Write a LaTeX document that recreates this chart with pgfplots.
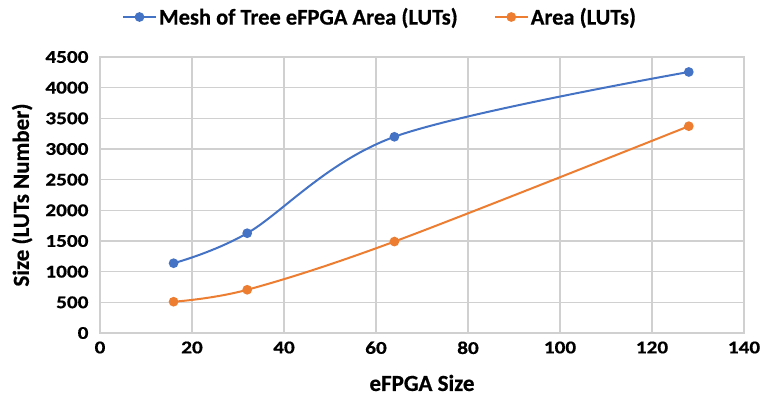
\documentclass[border=0pt]{standalone}
\usepackage{pgfplots}
\pgfplotsset{compat=1.18}
\usepackage{fontspec}
\setmainfont{Carlito}[BoldFeatures={FakeBold=0.6}]
\newfontfamily\tickfont{Carlito}[FakeStretch=1.18, BoldFeatures={FakeBold=0.6}]
\definecolor{sblue}{HTML}{4472C4}
\definecolor{sorange}{HTML}{ED7D31}
\definecolor{gridc}{HTML}{D0D0D0}
\begin{document}
\begin{tikzpicture}
\useasboundingbox (-100pt,-64pt) rectangle (664pt,333pt);
\begin{axis}[
  at={(0pt,0pt)}, anchor=south west,
  scale only axis,
  width=644pt, height=276pt,
  xmin=0, xmax=140, ymin=0, ymax=4500,
  xtick={0,20,...,140}, ytick={0,500,...,4500},
  grid=major,
  major grid style={gridc, line width=1.3pt},
  axis line style={gridc, line width=1.3pt},
  major tick length=0pt,
  /pgf/number format/assume math mode=true,
  /pgf/number format/1000 sep={},
  ticklabel style={font=\tickfont\fontsize{18}{21}\selectfont\bfseries, text=black},
  xticklabel style={yshift=-5pt},
  yticklabel style={xshift=-8pt},
  xlabel={eFPGA Size},
  ylabel={Size (LUTs Number)},
  label style={font=\fontsize{23}{27}\selectfont\bfseries, text=black},
  xlabel style={at={(axis description cs:0.5,-0.181)}, anchor=center},
  ylabel style={at={(axis description cs:-0.121,0.5)}, anchor=center},
  legend columns=2,
  legend style={draw=none, fill=none, at={(axis description cs:0.5,1)}, anchor=center, xshift=-42pt, yshift=40pt,
    font=\fontsize{22.5}{26}\selectfont\bfseries, text=black,
    /tikz/every even column/.append style={column sep=34pt}},
  legend image code/.code={\draw[mark repeat=2,mark phase=2,#1] plot coordinates {(0pt,0pt)(16.5pt,0pt)(33pt,0pt)};},
  every axis plot/.append style={line width=2pt, mark=*, mark size=3.8pt, smooth, tension=0.55},
]
\addplot[color=sblue, mark options={fill=sblue, draw=sblue}] coordinates {(16,1138) (32,1627) (64,3199) (128,4256)};
\addlegendentry{Mesh of Tree eFPGA Area (LUTs)}
\addplot[color=sorange, mark options={fill=sorange, draw=sorange}] coordinates {(16,510) (32,705) (64,1491) (128,3372)};
\addlegendentry{Area (LUTs)}
\end{axis}
\end{tikzpicture}
\end{document}
